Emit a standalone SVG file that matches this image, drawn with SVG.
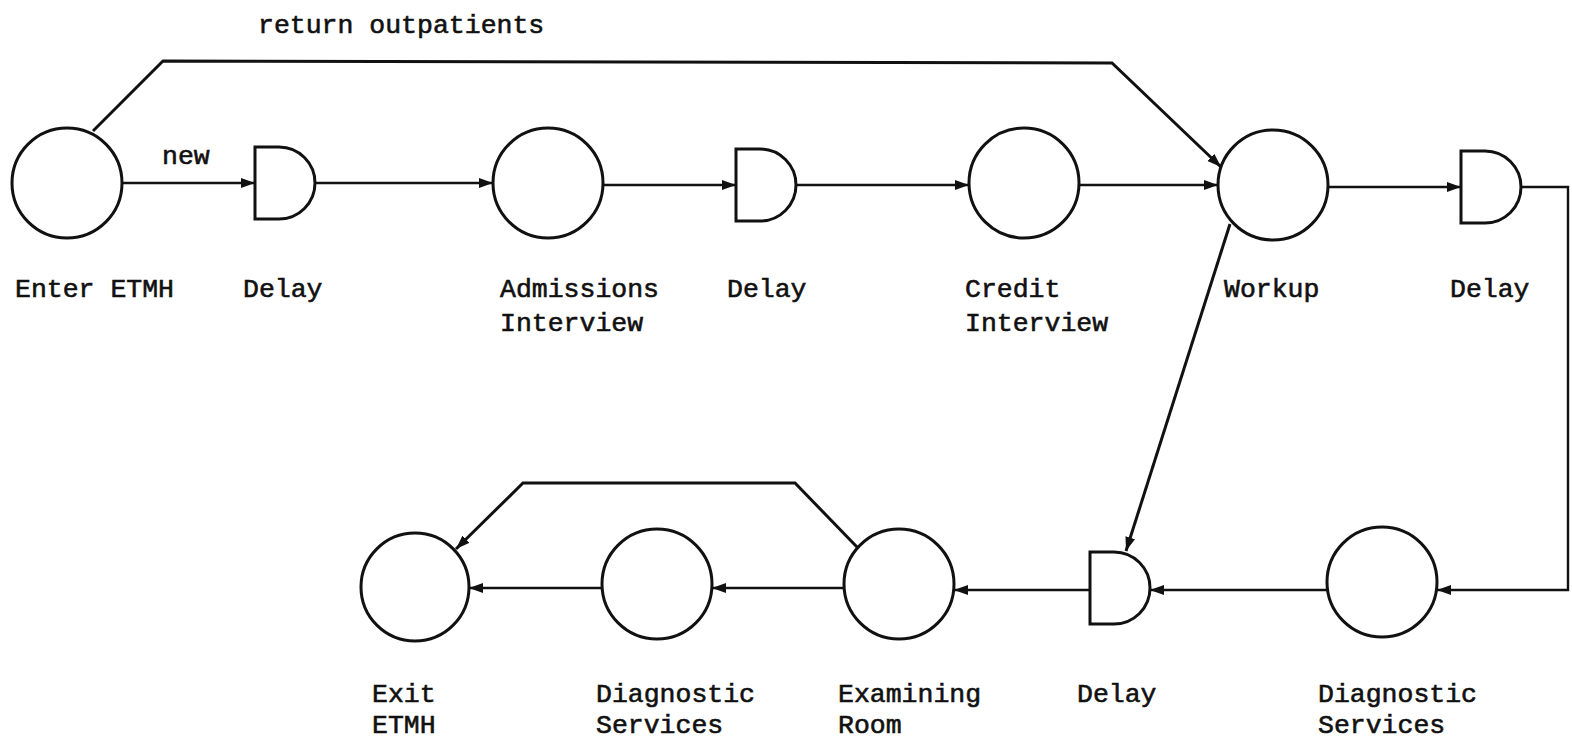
<svg xmlns="http://www.w3.org/2000/svg" width="1572" height="743" viewBox="0 0 1572 743">
<defs>
<style>
.n{fill:none;stroke:#111;stroke-width:3}
.c{fill:none;stroke:#111;stroke-width:2.4;marker-end:url(#ah)}
.c.k{stroke-width:3}
.t{font-family:"Liberation Mono","DejaVu Sans Mono",monospace;font-size:26.5px;fill:#111;stroke:#111;stroke-width:0.6}
</style>
<marker id="ah" markerUnits="userSpaceOnUse" markerWidth="16" markerHeight="12" refX="14" refY="5" orient="auto">
<path d="M0,0 L14,5 L0,10 Z" fill="#111"/>
</marker>
<path id="dly" d="M0,0 H24 A36,36 0 0 1 24,72 H0 Z"/>
</defs>
<rect width="1572" height="743" fill="#fff"/>
<g id="connectors">
<path class="c" d="M122,183 H255"/>
<path class="c" d="M315,183 H493"/>
<path class="c" d="M603,185 H736"/>
<path class="c" d="M796,185 H969"/>
<path class="c" d="M1079,185 H1218"/>
<path class="c" d="M1328,187 H1461"/>
<path class="c" d="M1521,187 H1568 V590 H1437"/>
<path class="c" d="M1327,590 H1150"/>
<path class="c" d="M1090,590 H954"/>
<path class="c" d="M844,588 H712"/>
<path class="c" d="M602,588 H469"/>
<path class="c k" d="M93,131 L163,61 L1112,63 L1221,167"/>
<path class="c k" d="M1230,224 L1126,551"/>
<path class="c k" d="M857,547 L795,483 H523 L456,549"/>
</g>
<g id="enter"><circle class="n" cx="67" cy="183" r="55"/><text class="t" x="15" y="297">Enter ETMH</text></g>
<g id="new-label"><text class="t" x="162" y="164">new</text></g>
<g id="return-label"><text class="t" x="258" y="33">return outpatients</text></g>
<g id="delay1"><use href="#dly" class="n" x="255" y="147"/><text class="t" x="243" y="297">Delay</text></g>
<g id="admissions"><circle class="n" cx="548" cy="183" r="55"/><text class="t" x="500" y="297">Admissions</text><text class="t" x="500" y="331">Interview</text></g>
<g id="delay2"><use href="#dly" class="n" x="736" y="149"/><text class="t" x="727" y="297">Delay</text></g>
<g id="credit"><circle class="n" cx="1024" cy="183" r="55"/><text class="t" x="965" y="297">Credit</text><text class="t" x="965" y="331">Interview</text></g>
<g id="workup"><circle class="n" cx="1273" cy="185" r="55"/><text class="t" x="1224" y="297">Workup</text></g>
<g id="delay3"><use href="#dly" class="n" x="1461" y="151"/><text class="t" x="1450" y="297">Delay</text></g>
<g id="diag-right"><circle class="n" cx="1382" cy="582" r="55"/><text class="t" x="1318" y="702">Diagnostic</text><text class="t" x="1318" y="733">Services</text></g>
<g id="delay4"><use href="#dly" class="n" x="1090" y="552"/><text class="t" x="1077" y="702">Delay</text></g>
<g id="examining"><circle class="n" cx="899" cy="584" r="55"/><text class="t" x="838" y="702">Examining</text><text class="t" x="838" y="733">Room</text></g>
<g id="diag-left"><circle class="n" cx="657" cy="584" r="55"/><text class="t" x="596" y="702">Diagnostic</text><text class="t" x="596" y="733">Services</text></g>
<g id="exit"><circle class="n" cx="415" cy="587" r="54"/><text class="t" x="372" y="702">Exit</text><text class="t" x="372" y="733">ETMH</text></g>
</svg>
